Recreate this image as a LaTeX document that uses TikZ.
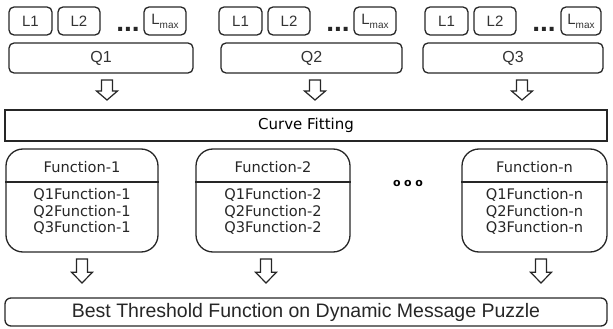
\documentclass[tikz,border=0pt]{standalone}
\usepackage{fontspec}
\setmainfont{Liberation Sans}
\newfontfamily\fnfont{DejaVu Sans}
\usetikzlibrary{calc}
\tikzset{
  boxline/.style={draw=black!85, line width=1.3pt},
  lbox/.style={boxline, rounded corners=5pt, minimum height=28pt, inner sep=0pt, font=\fontsize{15}{17}\selectfont, text=black!80},
  qbox/.style={boxline, rounded corners=5pt, minimum height=30pt, inner sep=0pt, font=\fontsize{16}{18}\selectfont, text=black!80},
  widebox/.style={boxline, minimum height=31pt, minimum width=602pt, inner sep=0pt},
  fnbox/.style={boxline, rounded corners=17pt, minimum width=152pt, minimum height=103pt, inner sep=0pt},
  fntext/.style={font=\fnfont\fontsize{14.6}{16}\selectfont, text=black!85},
  dots/.style={font=\bfseries\fontsize{28}{28}\selectfont, inner sep=0pt, text=black!85},
  blockarrow/.style={draw=black!85, line width=1.2pt, fill=white, line join=miter}
}
% hollow down arrow: top centre #1, total length #2
\newcommand{\downarrowblock}[2]{%
  \draw[blockarrow] ($(#1)+(-5.5,0)$) -- ($(#1)+(5.5,0)$) -- ($(#1)+(5.5,0.55*#2)$)
    -- ($(#1)+(10.5,0.55*#2)$) -- ($(#1)+(0,#2)$) -- ($(#1)+(-10.5,0.55*#2)$)
    -- ($(#1)+(-5.5,0.55*#2)$) -- cycle;}
\begin{document}
\begin{tikzpicture}[x=1pt,y=-1pt]
\useasboundingbox (0,0) rectangle (613,329);

% level boxes and queues, three groups
\foreach \g/\ox/\qa/\qb/\lw in {1/0/9/193/42, 2/210/221/402/42, 3/416/423/603/40}{
  \node[lbox, minimum width=43pt] (L1g\g) at (30.5+\ox,21) {L1};
  \node[lbox, minimum width=42pt] (L2g\g) at (79+\ox,21) {L2};
  \node[lbox, minimum width=\lw] (Lmg\g) at (165+\ox,21) {L\raisebox{-0.5ex}{\fontsize{10}{10}\selectfont max}};
  \node[dots] (dg\g) at (128+\ox,29) {...};
  \node[qbox, minimum width={\qb-\qa}] (Q\g) at ({(\qa+\qb)/2},58) {Q\g};
}

% curve fitting
\node[widebox, minimum height=31pt] (fit) at (306,125.5) {\fnfont\fontsize{15}{16}\selectfont Curve Fitting};

% function blocks
\foreach \name/\cx/\w/\lab in {f1/82/152/1, f2/273/154/2, fn/534.5/145/n}{
  \node[fnbox, minimum width=\w] (\name) at (\cx,200.5) {};
  \draw[boxline] (\name.west |- 0,182) -- (\name.east |- 0,182);
  \node[fntext] at (\cx,167) {Function-\lab};
  \node[fntext] at (\cx,195) {Q1Function-\lab};
  \node[fntext] at (\cx,211.5) {Q2Function-\lab};
  \node[fntext] at (\cx,228) {Q3Function-\lab};
}
\node[font=\fnfont\bfseries\fontsize{11}{11}\selectfont, inner sep=0pt] (mid) at (408,183) {o\,\,o\,\,o};

% result
\node[widebox, rounded corners=6pt, minimum height=28pt] (best) at (306,312)
  {\fontsize{19.5}{21}\selectfont\color{black!85}Best Threshold Function on Dynamic Message Puzzle};

% arrows
\coordinate (a1) at (107,80);
\coordinate (a2) at (315,80);
\coordinate (a3) at (522,80);
\coordinate (b1) at (82,259);
\coordinate (b2) at (266,259);
\coordinate (b3) at (541,259);
\downarrowblock{a1}{20}
\downarrowblock{a2}{20}
\downarrowblock{a3}{20}
\downarrowblock{b1}{24}
\downarrowblock{b2}{24}
\downarrowblock{b3}{24}
\end{tikzpicture}
\end{document}
